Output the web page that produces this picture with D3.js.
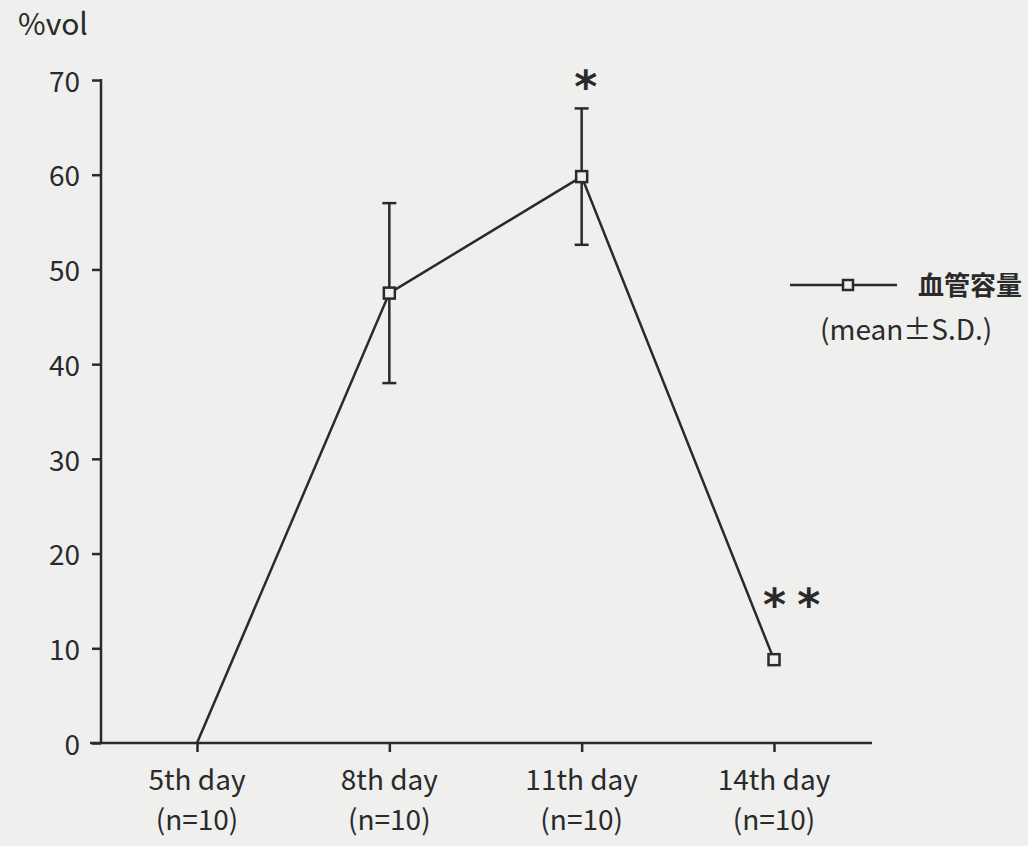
<!DOCTYPE html>
<html>
<head>
<meta charset="utf-8">
<script src="https://cdn.jsdelivr.net/npm/d3@7"></script>
<style>
  html, body { margin: 0; padding: 0; background: #efefed; }
  svg { display: block; }
  text { font-family: "Noto Sans CJK JP", "Noto Sans", sans-serif; fill: #2a2a2a; }
</style>
</head>
<body>
<svg id="chart" width="1028" height="846"></svg>
<script>
// Vessel volume (%vol) by day, mean ± S.D.
const days = ["5th day", "8th day", "11th day", "14th day"];
const counts = ["(n=10)", "(n=10)", "(n=10)", "(n=10)"];
const meanValues = [0, 47.5, 59.8, 8.8];
const sdValues = [0, 9.5, 7.2, 0];
const significance = ["", "", "*", "* *"];
const yTicks = [0, 10, 20, 30, 40, 50, 60, 70];

const ink = "#2a2a2a";
const paper = "#efefed";
const svg = d3.select("#chart");

const x = d3.scalePoint().domain(days).range([197, 774]);
const y = d3.scaleLinear().domain([0, 70]).range([743, 80]);

const data = days.map((d, i) => ({ day: d, v: meanValues[i], sd: sdValues[i], sig: significance[i] }));

// y axis
const yAxis = svg.append("g").attr("transform", "translate(101,0)")
  .call(d3.axisLeft(y).tickValues(yTicks).tickSize(9).tickPadding(12));
yAxis.select(".domain").remove();
yAxis.selectAll(".tick line").attr("stroke", ink).attr("stroke-width", 2.5);
yAxis.selectAll(".tick text").attr("font-size", 28).attr("dy", "0.4em")
  .style("font-family", '"Noto Sans CJK JP", sans-serif').attr("fill", ink);
svg.append("line").attr("x1", 101).attr("x2", 101).attr("y1", y(70) - 1).attr("y2", y(0))
  .attr("stroke", ink).attr("stroke-width", 2.5);

// x axis
const xAxis = svg.append("g").attr("transform", "translate(0,743)")
  .call(d3.axisBottom(x).tickSize(9).tickFormat(""));
xAxis.select(".domain").remove();
xAxis.selectAll(".tick line").attr("stroke", ink).attr("stroke-width", 2.5);
svg.append("line").attr("x1", 90).attr("x2", 872).attr("y1", 743).attr("y2", 743)
  .attr("stroke", ink).attr("stroke-width", 2.5);

// category labels
const labels = svg.append("g");
days.forEach((d, i) => {
  labels.append("text").attr("x", x(d)).attr("y", 790).attr("text-anchor", "middle")
    .attr("font-size", 28).text(d);
  labels.append("text").attr("x", x(d)).attr("y", 830).attr("text-anchor", "middle")
    .attr("font-size", 28).text(counts[i]);
});

// unit label
svg.append("text").attr("x", 18).attr("y", 35).attr("font-size", 30).text("%vol");

// error bars
const eb = svg.append("g").attr("stroke", ink).attr("stroke-width", 2.5);
data.filter(d => d.sd > 0).forEach(d => {
  const cx = x(d.day);
  eb.append("line").attr("x1", cx).attr("x2", cx).attr("y1", y(d.v + d.sd)).attr("y2", y(d.v - d.sd));
  eb.append("line").attr("x1", cx - 7).attr("x2", cx + 7).attr("y1", y(d.v + d.sd)).attr("y2", y(d.v + d.sd));
  eb.append("line").attr("x1", cx - 7).attr("x2", cx + 7).attr("y1", y(d.v - d.sd)).attr("y2", y(d.v - d.sd));
});

// mean line
const line = d3.line().x(d => x(d.day)).y(d => y(d.v));
svg.append("path").datum(data).attr("d", line)
  .attr("fill", "none").attr("stroke", ink).attr("stroke-width", 2.5);

// markers (open squares), none at the baseline point
svg.append("g").selectAll("rect").data(data.filter(d => d.v > 0)).join("rect")
  .attr("x", d => x(d.day) - 5.5).attr("y", d => y(d.v) - 5.5)
  .attr("width", 11).attr("height", 11)
  .attr("fill", paper).attr("stroke", ink).attr("stroke-width", 2.5);

// significance marks
svg.append("g").selectAll("text").data(data.filter(d => d.sig)).join("text")
  .attr("x", d => d.sig.length > 1 ? x(d.day) - 11 : x(d.day) + 3)
  .attr("y", d => d.sig.length > 1 ? y(d.v) - 40 : y(d.v + d.sd) - 6)
  .attr("text-anchor", d => d.sig.length > 1 ? "start" : "middle")
  .attr("font-size", 44).attr("font-weight", "bold").attr("letter-spacing", -2)
  .style("font-family", '"DejaVu Sans", sans-serif')
  .text(d => d.sig);

// legend
const lg = svg.append("g");
lg.append("line").attr("x1", 790).attr("x2", 897).attr("y1", 285).attr("y2", 285)
  .attr("stroke", ink).attr("stroke-width", 2.5);
lg.append("rect").attr("x", 843).attr("y", 280).attr("width", 10).attr("height", 10)
  .attr("fill", paper).attr("stroke", ink).attr("stroke-width", 2.5);
lg.append("text").attr("x", 918).attr("y", 295).attr("font-size", 26).attr("font-weight", "bold").text("血管容量");
lg.append("text").attr("x", 820).attr("y", 340).attr("font-size", 28).text("(mean±S.D.)");
</script>
</body>
</html>
